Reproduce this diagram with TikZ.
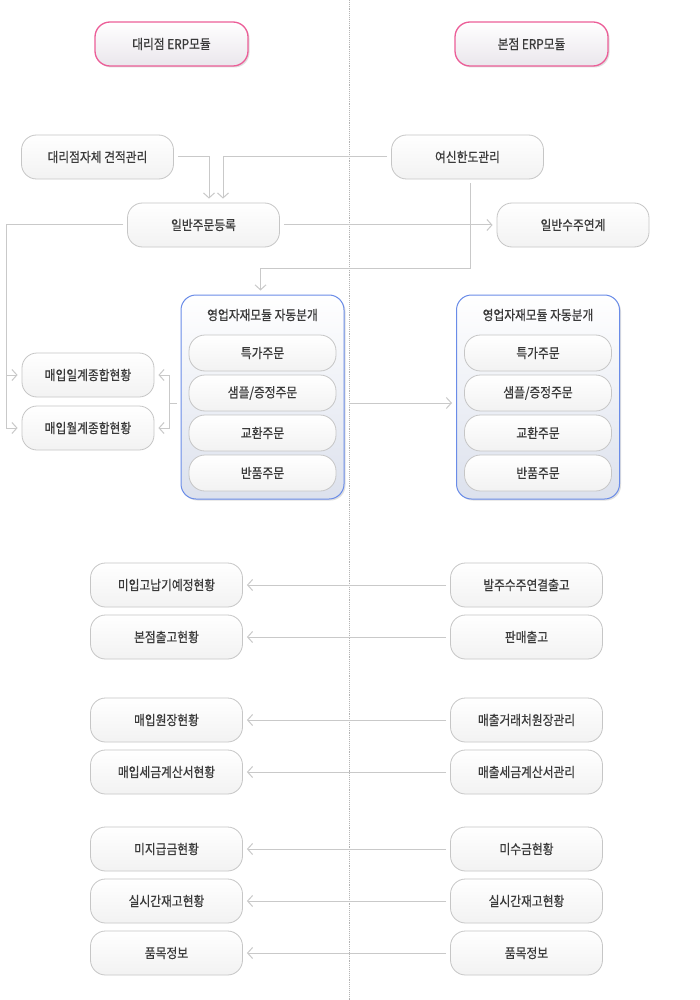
\documentclass[tikz,border=0pt]{standalone}
\usepackage{fontspec}
\newfontfamily\kr[FakeStretch=0.87,FakeBold=0.6]{Noto Sans CJK KR}
\usetikzlibrary{arrows.meta,shadows,shadings}
\definecolor{ln}{HTML}{C9C9C9}
\definecolor{bd}{HTML}{C6C6C6}
\definecolor{tx}{HTML}{3A3A3A}
\definecolor{pk}{HTML}{EC5E98}
\definecolor{bl}{HTML}{6A8CE8}
\definecolor{modbot}{HTML}{DCE1ED}
\definecolor{hdrbot}{HTML}{EAE6EC}
\tikzset{
  base/.style={font=\kr\fontsize{13.5}{15}\selectfont, text=tx, align=center, inner sep=0pt},
  box/.style={base, draw=bd, line width=0.8pt, rounded corners=15pt,
    minimum width=152pt, minimum height=44pt, top color=white, bottom color=black!5},
  subbox/.style={box, minimum width=147pt, minimum height=36pt, rounded corners=16pt},
  hdr/.style={box, draw=pk, line width=1.3pt, minimum width=153pt, top color=white, bottom color=hdrbot,
    drop shadow={shadow xshift=1.5pt, shadow yshift=-1.5pt, opacity=0.25}},
  modbox/.style={draw=bl, line width=1pt, rounded corners=15pt, minimum width=163pt, minimum height=204pt,
    top color=white, bottom color=modbot, inner sep=0pt,
    drop shadow={shadow xshift=1.5pt, shadow yshift=-1.5pt, opacity=0.25}},
  conn/.style={draw=ln, line width=1pt, shorten <=4pt, shorten >=4pt,
    -{Straight Barb[length=5pt,width=11pt,line width=1pt]}},
}
\begin{document}
\begin{tikzpicture}[x=1pt,y=-1pt]
\fill[white] (0,0) rectangle (699,1000);
\useasboundingbox (0,0) rectangle (699,1000);
\draw[densely dotted, color=black!30, line width=0.9pt] (349,0) -- (349,1000);

% headers
\node[hdr] (hl) at (171.5,44) {대리점 ERP모듈};
\node[hdr] (hr) at (531.5,44) {본점 ERP모듈};

% top row
\node[box] (q) at (97.5,157) {대리점자체 견적관리};
\node[box] (yh) at (467.5,157) {여신한도관리};
\node[box] (g) at (203.5,225) {일반주문등록};
\node[box] (s) at (573,225) {일반수주연계};

% modules
\node[modbox] (ml) at (262.5,397) {};
\node[base] (mlt) at (262.5,315) {영업자재모듈 자동분개};
\node[subbox] (ml1) at (262.5,353) {특가주문};
\node[subbox] (ml2) at (262.5,393) {샘플/증정주문};
\node[subbox] (ml3) at (262.5,433) {교환주문};
\node[subbox] (ml4) at (262.5,473) {반품주문};

\node[modbox] (mr) at (538,397) {};
\node[base] (mrt) at (538,315) {영업자재모듈 자동분개};
\node[subbox] (mr1) at (538,353) {특가주문};
\node[subbox] (mr2) at (538,393) {샘플/증정주문};
\node[subbox] (mr3) at (538,433) {교환주문};
\node[subbox] (mr4) at (538,473) {반품주문};

\node[box, minimum width=132pt] (d1) at (88,375) {매입일계종합현황};
\node[box, minimum width=132pt] (d2) at (88,428) {매입월계종합현황};

% bottom rows
\node[box] (l1) at (166.5,585) {미입고납기예정현황};
\node[box] (l2) at (166.5,637) {본점출고현황};
\node[box] (l3) at (166.5,720) {매입원장현황};
\node[box] (l4) at (166.5,772) {매입세금계산서현황};
\node[box] (l5) at (166.5,849) {미지급금현황};
\node[box] (l6) at (166.5,901) {실시간재고현황};
\node[box] (l7) at (166.5,953) {품목정보};

\node[box] (r1) at (526.5,585) {발주수주연결출고};
\node[box] (r2) at (526.5,637) {판매출고};
\node[box] (r3) at (526.5,720) {매출거래처원장관리};
\node[box] (r4) at (526.5,772) {매출세금계산서관리};
\node[box] (r5) at (526.5,849) {미수금현황};
\node[box] (r6) at (526.5,901) {실시간재고현황};
\node[box] (r7) at (526.5,953) {품목정보};

% connectors
\draw[conn] (q.east) -| ([xshift=5.5pt]g.north);
\draw[conn] (yh.west) -| ([xshift=19.5pt]g.north);
\draw[conn] ([xshift=3pt]yh.south) |- ([xshift=-2pt,yshift=26pt]ml.north) -- ([xshift=-2pt]ml.north);
\draw[conn] (g.east) -- (s.west);
\coordinate (gl) at (6,225);
\draw[conn] (g.west) -- (gl) |- (d1.west);
\draw[conn] (g.west) -- (gl) |- (d2.west);
\coordinate (bk) at (169.5,403);
\draw[conn] ([yshift=-6pt]ml.west) -- (bk) |- (d1.east);
\draw[conn] ([yshift=-6pt]ml.west) -- (bk) |- (d2.east);
\draw[conn] ([yshift=-6pt]ml.east) -- ([yshift=-6pt]mr.west);
\foreach \i in {1,...,7} { \draw[conn] (r\i.west) -- (l\i.east); }
\end{tikzpicture}
\end{document}
